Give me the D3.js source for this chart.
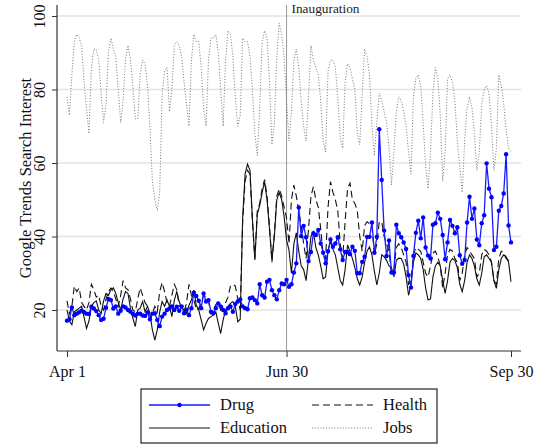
<!DOCTYPE html>
<html>
<head>
<meta charset="utf-8">
<script src="https://cdn.jsdelivr.net/npm/d3@7"></script>
<style>
  body { margin: 0; background: #fff; }
  svg { display: block; font-family: "Liberation Serif", "Times New Roman", serif; }
</style>
</head>
<body>
<svg id="chart" width="538" height="444"></svg>
<script>
// daily series, Apr 1 to Sep 30 (183 days)
const startDate = new Date(2016, 3, 1);

const drug = [
  17.1, 17.5, 20.7, 18.6, 19.0, 19.4, 19.8, 19.4, 19.0, 18.9,
  20.9, 20.4, 19.7, 18.6, 17.3, 17.6, 20.6, 23.0, 22.7, 20.4,
  21.0, 19.0, 19.8, 21.0, 20.7, 20.0, 19.5, 19.0, 18.5, 19.0,
  19.0, 18.5, 18.4, 19.3, 17.5, 19.0, 19.1, 17.3, 15.6, 18.2,
  19.0, 20.0, 20.4, 21.0, 20.0, 20.9, 19.8, 21.0, 19.1, 20.1,
  18.6, 20.5, 24.7, 23.8, 22.5, 20.5, 24.5, 22.3, 22.7, 19.5,
  19.1, 20.5, 21.8, 21.0, 20.0, 19.1, 20.5, 21.0, 19.5, 21.6,
  22.3, 22.9, 21.0, 20.5, 20.2, 23.2, 23.4, 22.7, 21.8, 27.0,
  24.0, 23.4, 27.7, 28.2, 25.4, 24.0, 22.9, 25.4, 27.2, 27.0,
  28.2, 26.3, 27.0, 30.2, 32.7, 47.9, 40.1, 42.9, 39.8, 33.3,
  35.8, 40.9, 40.4, 41.8, 38.1, 35.6, 32.7, 36.0, 39.2, 37.2,
  38.1, 39.8, 36.5, 33.6, 35.8, 35.8, 35.2, 37.2, 36.1, 30.0,
  30.0, 33.1, 34.5, 39.9, 39.9, 43.8, 35.6, 39.9, 69.2, 55.4,
  41.6, 34.7, 38.9, 30.2, 30.2, 43.2, 40.9, 39.8, 38.4, 36.6,
  29.5, 26.1, 34.7, 41.0, 44.3, 39.5, 45.2, 37.0, 34.8, 34.0,
  43.2, 43.6, 46.5, 44.8, 40.4, 33.8, 38.4, 44.5, 42.9, 40.9,
  42.5, 34.9, 32.6, 33.6, 43.8, 50.8, 44.8, 47.6, 39.2, 37.6,
  43.6, 45.8, 59.9, 53.0, 50.7, 36.3, 37.2, 47.0, 48.3, 51.7,
  62.4, 43.0, 38.4
];

const education = [
  20, 17, 16, 19.5, 20, 20.5, 21, 18, 15, 17,
  21, 22, 22.5, 20, 19, 22.5, 24.5, 24, 25.5, 26,
  24.5, 22, 20, 23, 25, 24.5, 20.5, 17.8, 15.5, 20,
  20.5, 22.3, 19.5, 21, 19, 14.6, 11.8, 14.6, 19.5, 22.3,
  21, 22.7, 21, 18.2, 22.7, 25, 22.3, 20.5, 20, 19,
  21.3, 22.7, 25.4, 21.3, 20, 17.3, 14.6, 16.4, 17.7, 18.2,
  18.6, 19.5, 16.4, 13.6, 17.3, 20, 21, 21.8, 22.3, 21,
  16.8, 17.5, 45, 57, 59.7, 58, 45, 33.6, 46, 48.5,
  52, 54.9, 50, 42, 33.6, 40, 50, 52, 50, 45.4,
  39, 36.3, 30, 38, 41, 36, 32, 31, 28, 34,
  40, 41.3, 37, 35, 32, 28.5, 29, 36, 38.6, 36.5,
  35, 31.5, 28, 26.8, 31, 37.7, 36, 34, 31.5, 28.5,
  26.8, 29, 33, 36, 37.2, 35, 30.5, 26.8, 30, 35,
  34.5, 33.5, 32, 31.5, 29, 33.5, 34.1, 34, 32.5, 29,
  24, 27, 33, 35.5, 35, 34, 31, 26, 22.7, 23,
  29, 32, 33, 32, 28, 24.5, 28, 33, 34, 33.5,
  31.5, 27, 25, 28, 33, 35, 34, 32, 28.5, 26.8,
  30, 34.5, 35, 34, 33, 28, 25.9, 31, 34, 35,
  34.5, 33, 27.7
];

const health = [
  22.5, 19, 21, 26.5, 25, 26, 22, 21, 20, 22,
  27, 25.5, 23.5, 24, 21, 20, 23, 25, 26, 25,
  23, 21, 24, 28, 26, 25.5, 23, 20, 19.5, 23,
  26, 24, 22, 21, 17, 19, 21, 19.5, 25, 27.5,
  25, 22, 21, 24, 27, 25.5, 21, 21, 19.5, 22,
  27, 24, 23, 20, 20.5, 22, 24, 23.5, 22.5, 19,
  20, 21.5, 22, 20, 21, 22, 23.5, 26.5, 27, 26.5,
  23, 20, 44, 55, 58, 57, 44, 34, 47, 49,
  53, 55.5, 51, 43, 33, 41, 51, 53, 51, 48,
  45, 38, 50, 54, 51, 47, 43, 38, 34, 42,
  51, 53.6, 50, 48, 42, 35, 34, 48, 54.9, 52,
  50, 47, 38, 34, 44, 53, 54.5, 50, 49, 47,
  40, 36, 43, 44, 43.5, 43, 35, 38, 44, 44,
  40, 38, 36, 30, 31, 37, 38, 37, 35, 33,
  27, 28, 35, 37, 36.5, 36, 33, 30, 29, 32,
  35.5, 36, 34.5, 32, 26, 30, 35, 36.5, 36, 34,
  33, 28, 30, 35, 37, 36, 35, 34, 29, 30,
  35, 36.5, 36, 35, 33, 28, 27, 34, 36, 35.5,
  34, 33.5, 33
];

const jobs = [
  78, 73, 84, 93, 95, 94, 92, 82, 75, 68,
  86, 91, 91, 88, 79, 71, 76, 90, 94, 91,
  89, 80, 71, 77, 88, 92, 88, 81, 72, 72,
  84, 88, 87, 81, 70, 55, 50, 47, 52, 79,
  85, 86, 74, 80, 92, 93, 92, 89, 82, 76,
  70, 88, 95, 93, 93, 86, 75, 70, 88, 94,
  94, 95, 90, 80, 70, 88, 96, 95, 89, 78,
  70, 73, 94, 93, 93, 89, 80, 68, 62, 75,
  93, 96, 94, 82, 65, 71, 89, 98, 95, 89,
  77, 66, 74, 88, 91, 86, 77, 70, 66, 78,
  92, 88, 86, 84, 77, 66, 63, 85, 88, 88,
  86, 78, 67, 64, 82, 87, 86, 83, 80, 68,
  65, 79, 91, 89, 84, 70, 62, 71, 79, 77,
  74, 71, 64, 54, 63, 74, 78, 77, 74, 70,
  63, 57, 78, 83, 84, 81, 71, 59, 53, 63,
  79, 86, 83, 73, 55, 63, 83, 84, 82, 77,
  66, 59, 52, 66, 75, 78, 75, 68, 58, 63,
  76, 80, 81, 79, 70, 58, 64, 84, 81, 76,
  69, 64, 63
];

const xTickDates = [new Date(2016, 3, 1), new Date(2016, 5, 30), new Date(2016, 8, 30)];
const xTickLabels = ['Apr 1', 'Jun 30', 'Sep 30'];
const yTicks = [20, 40, 60, 80, 100];
const inauguration = new Date(2016, 5, 30);

const svg = d3.select('#chart');

const x = d3.scaleTime().domain([xTickDates[0], xTickDates[2]]).range([67, 511]);
const y = d3.scaleLinear().domain([20, 100]).range([310, 16]);
const plotLeft = 57, plotRight = 521, plotTop = 5, plotBottom = 351;
const day = i => d3.timeDay.offset(startDate, i);

// Grid
svg.append('g')
  .selectAll('line')
  .data(yTicks)
  .join('line')
  .attr('x1', plotLeft)
  .attr('x2', plotRight)
  .attr('y1', d => y(d))
  .attr('y2', d => y(d))
  .attr('stroke', '#e3e3e3')
  .attr('stroke-width', 1.3);

// Inauguration marker
svg.append('line')
  .attr('x1', x(inauguration))
  .attr('x2', x(inauguration))
  .attr('y1', plotTop)
  .attr('y2', plotBottom)
  .attr('stroke', '#9a9a9a')
  .attr('stroke-width', 1);
svg.append('text')
  .attr('x', x(inauguration) + 5)
  .attr('y', 13)
  .attr('font-size', 13.3)
  .attr('fill', '#222')
  .text('Inauguration');

// Axes
const yAxis = svg.append('g')
  .attr('transform', `translate(${plotLeft},0)`)
  .call(d3.axisLeft(y).tickValues(yTicks).tickSize(5).tickSizeOuter(0));
yAxis.select('.domain').remove();
yAxis.selectAll('line').attr('stroke', '#333');
yAxis.selectAll('text')
  .attr('x', 0)
  .attr('dy', 0)
  .attr('text-anchor', 'middle')
  .attr('transform', 'translate(-12,0) rotate(-90)')
  .attr('font-size', 16)
  .attr('font-family', '"Liberation Serif", serif')
  .attr('fill', '#111');

const xAxis = svg.append('g')
  .attr('transform', `translate(0,${plotBottom})`)
  .call(d3.axisBottom(x).tickValues(xTickDates).tickFormat((d, i) => xTickLabels[i])
    .tickSize(6).tickPadding(9).tickSizeOuter(0));
xAxis.select('.domain').remove();
xAxis.selectAll('line').attr('stroke', '#333');
xAxis.selectAll('text')
  .attr('font-size', 16)
  .attr('font-family', '"Liberation Serif", serif')
  .attr('fill', '#111');

svg.append('line')
  .attr('x1', plotLeft).attr('x2', plotLeft)
  .attr('y1', plotTop).attr('y2', plotBottom)
  .attr('stroke', '#333').attr('stroke-width', 1.2);
svg.append('line')
  .attr('x1', plotLeft).attr('x2', plotRight)
  .attr('y1', plotBottom).attr('y2', plotBottom)
  .attr('stroke', '#333').attr('stroke-width', 1.2);

svg.append('text')
  .attr('transform', `translate(31,${(plotTop + plotBottom) / 2}) rotate(-90)`)
  .attr('text-anchor', 'middle')
  .attr('font-size', 16.5)
  .attr('fill', '#111')
  .text('Google Trends Search Interest');

// Series
const line = d3.line()
  .x((d, i) => x(day(i)))
  .y(d => y(d));

svg.append('path')
  .datum(jobs)
  .attr('d', line)
  .attr('fill', 'none')
  .attr('stroke', '#777')
  .attr('stroke-width', 1)
  .attr('stroke-dasharray', '1 1.8');

svg.append('path')
  .datum(education)
  .attr('d', line)
  .attr('fill', 'none')
  .attr('stroke', '#111')
  .attr('stroke-width', 1.1);

svg.append('path')
  .datum(health)
  .attr('d', line)
  .attr('fill', 'none')
  .attr('stroke', '#111')
  .attr('stroke-width', 1.1)
  .attr('stroke-dasharray', '7 4');

svg.append('path')
  .datum(drug)
  .attr('d', line)
  .attr('fill', 'none')
  .attr('stroke', '#1a1aff')
  .attr('stroke-width', 1.3);

svg.append('g')
  .selectAll('circle')
  .data(drug)
  .join('circle')
  .attr('cx', (d, i) => x(day(i)))
  .attr('cy', d => y(d))
  .attr('r', 2.2)
  .attr('fill', '#0000ff');

// Legend
const legend = svg.append('g');
legend.append('rect')
  .attr('x', 141).attr('y', 389)
  .attr('width', 296).attr('height', 54)
  .attr('fill', '#fff')
  .attr('stroke', '#333')
  .attr('stroke-width', 1.3);

const legendItems = [
  { name: 'Drug', x: 149, y: 405, stroke: '#1a1aff', dash: null, marker: true },
  { name: 'Education', x: 149, y: 428, stroke: '#111', dash: null },
  { name: 'Health', x: 312, y: 405, stroke: '#111', dash: '7 4' },
  { name: 'Jobs', x: 312, y: 428, stroke: '#777', dash: '1 1.8' }
];
legendItems.forEach(it => {
  legend.append('line')
    .attr('x1', it.x).attr('x2', it.x + 61)
    .attr('y1', it.y).attr('y2', it.y)
    .attr('stroke', it.stroke)
    .attr('stroke-width', it.marker ? 1.3 : 1.1)
    .attr('stroke-dasharray', it.dash);
  if (it.marker) {
    legend.append('circle')
      .attr('cx', it.x + 30.5).attr('cy', it.y)
      .attr('r', 2.2).attr('fill', '#0000ff');
  }
  legend.append('text')
    .attr('x', it.x + 71)
    .attr('y', it.y + 5)
    .attr('font-size', 16.5)
    .attr('fill', '#111')
    .text(it.name);
});
</script>
</body>
</html>
